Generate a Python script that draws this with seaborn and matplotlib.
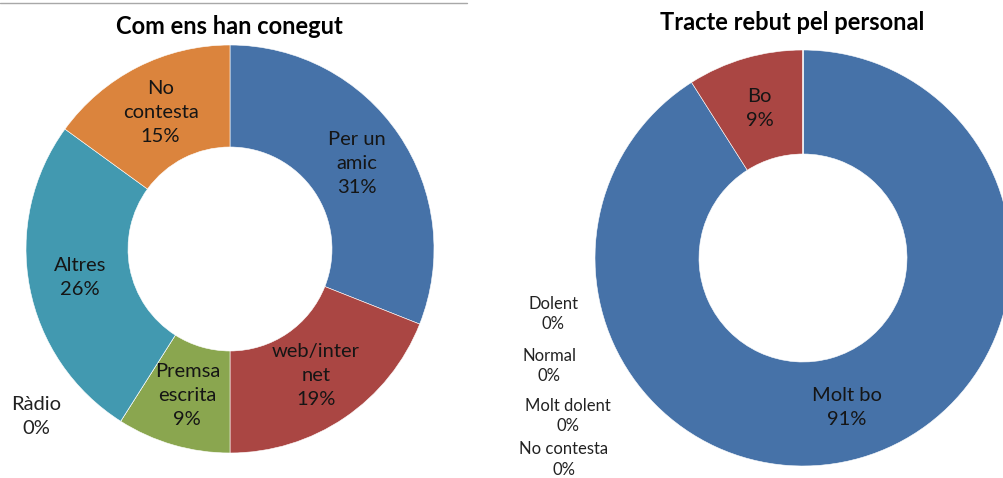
import matplotlib
matplotlib.use("Agg")
import numpy as np
import matplotlib.pyplot as plt
import seaborn as sns
from matplotlib.lines import Line2D

# Data: "Com ens han conegut"
known_labels = ["Per un\namic", "web/inter\nnet", "Premsa\nescrita", "Ràdio", "Altres", "No\ncontesta"]
known_values = [31, 19, 9, 0, 26, 15]
known_colors = ["#4672A8", "#AA4643", "#8AA64F", "#71588F", "#4299B0", "#DB843D"]

# Data: "Tracte rebut pel personal"
tracte_labels = ["Molt bo", "Bo", "Dolent", "Normal", "Molt dolent", "No contesta"]
tracte_values = [91, 9, 0, 0, 0, 0]
tracte_colors = ["#4672A8", "#AA4643", "#8AA64F", "#71588F", "#4299B0", "#DB843D"]

# where Excel had the zero-value labels dragged to (data units of each donut)
known_zero_pos = {"Ràdio": (-0.95, -0.82)}
tracte_zero_pos = {
    "Dolent": (-1.20, -0.27),
    "Normal": (-1.22, -0.52),
    "Molt dolent": (-1.13, -0.76),
    "No contesta": (-1.15, -0.97),
}

sns.set_theme(style="white")
plt.rcParams["font.family"] = ["Lato", "DejaVu Sans"]

W, H = 1004, 478
fig = plt.figure(figsize=(W / 100, H / 100), dpi=100)


def donut_axes(cx, cy, r):
    # cx, cy, r in pixels (y from top)
    return fig.add_axes([(cx - r) / W, (H - cy - r) / H, 2 * r / W, 2 * r / H])


def draw_donut(ax, labels, values, colors, zero_pos, label_size, zero_size, zero_spacing):
    total = sum(values)
    ax.pie(values, colors=colors, startangle=90, counterclock=False, radius=1,
           wedgeprops=dict(width=0.5, edgecolor="white", linewidth=0.4))
    ax.set_xlim(-1, 1)
    ax.set_ylim(-1, 1)
    ax.set_aspect("equal")
    ax.axis("off")
    start = 90.0
    for lab, val in zip(labels, values):
        pct = 100 * val / total
        text = f"{lab}\n{pct:.0f}%"
        if val == 0:
            x, y = zero_pos[lab]
            ax.text(x, y, text, ha="center", va="center", fontsize=zero_size,
                    color="#222222", linespacing=zero_spacing, clip_on=False)
        else:
            mid = np.deg2rad(start - 360 * val / total / 2)
            ax.text(0.75 * np.cos(mid), 0.75 * np.sin(mid), text, ha="center",
                    va="center", fontsize=label_size, color="#151515",
                    linespacing=1.5)
        start -= 360 * val / total


ax1 = donut_axes(230, 249, 204)
draw_donut(ax1, known_labels, known_values, known_colors, known_zero_pos, 14.5, 14.5, 1.5)
fig.text(229 / W, 1 - 27 / H, "Com ens han conegut", ha="center", va="center",
         fontsize=17, fontweight="bold", color="black")

ax2 = donut_axes(803, 258, 208)
draw_donut(ax2, tracte_labels, tracte_values, tracte_colors, tracte_zero_pos, 14.5, 12, 1.35)
fig.text(792 / W, 1 - 22 / H, "Tracte rebut pel personal", ha="center", va="center",
         fontsize=17, fontweight="bold", color="black")

# thin frame line left over at the top of the first chart
fig.add_artist(Line2D([0, 467 / W], [1 - 3 / H, 1 - 3 / H], color="#a8a8a8", linewidth=1))

fig.savefig("out.png", dpi=100)
